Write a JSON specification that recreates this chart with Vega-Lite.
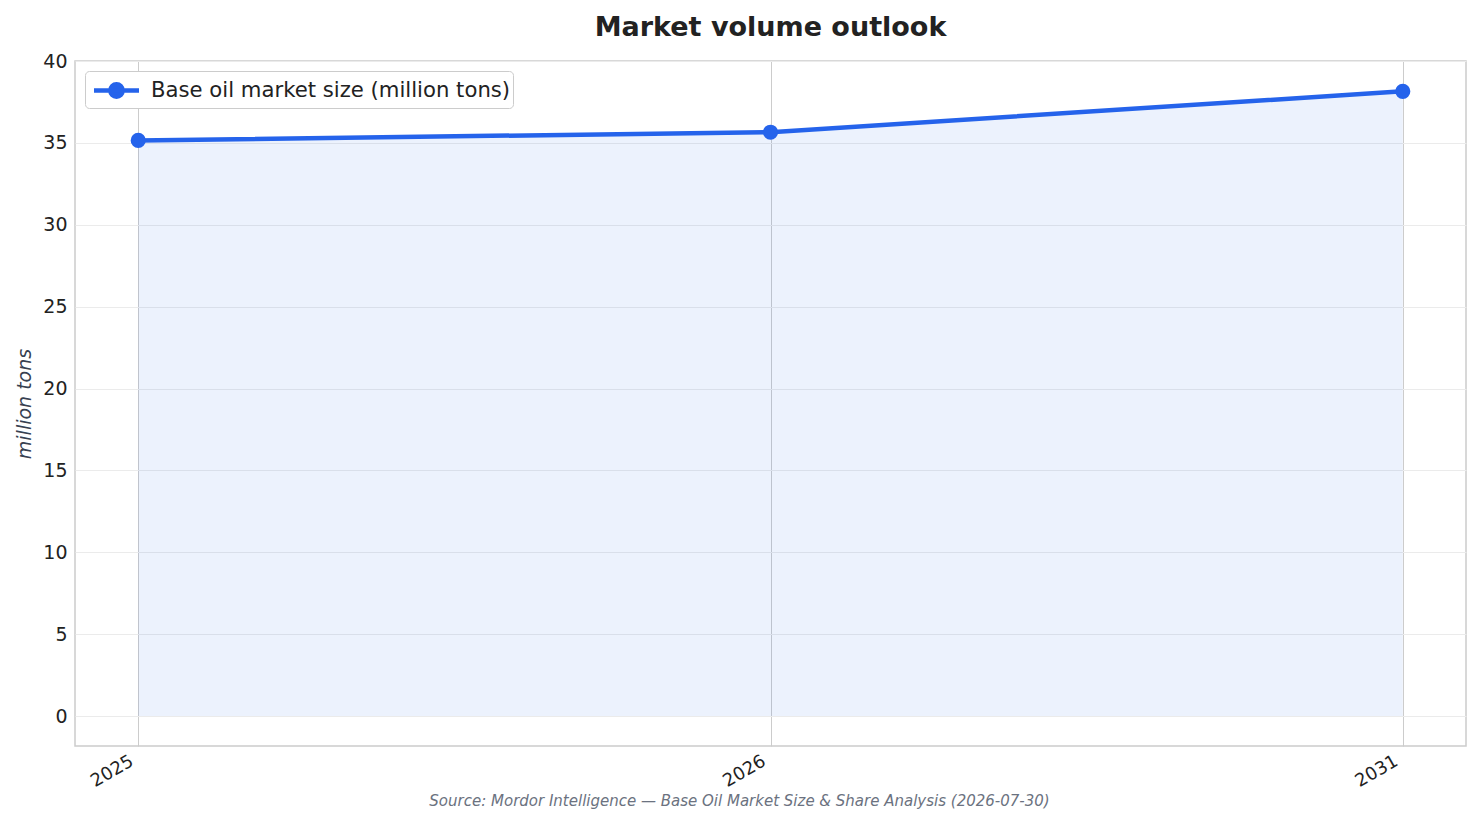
{
  "$schema": "https://vega.github.io/schema/vega-lite/v6.json",
  "description": "Market volume outlook, base oil market size",
  "width": 1391,
  "height": 685,
  "autosize": {"type": "none"},
  "padding": {"left": 75, "top": 61, "right": 15, "bottom": 78},
  "background": "white",
  "title": {
    "text": "Market volume outlook",
    "font": "DejaVu Sans",
    "fontSize": 27,
    "fontWeight": "bold",
    "color": "#222222",
    "anchor": "middle",
    "frame": "group",
    "offset": 10
  },
  "data": {
    "values": [
      {"year": "2025", "value": 35.15},
      {"year": "2026", "value": 35.65},
      {"year": "2031", "value": 38.15}
    ]
  },
  "encoding": {
    "x": {
      "field": "year",
      "type": "ordinal",
      "scale": {"type": "point", "padding": 0.1},
      "axis": {
        "title": "Source: Mordor Intelligence — Base Oil Market Size & Share Analysis (2026-07-30)",
        "titleX": 664,
        "titleY": 59,
        "titleAlign": "center",
        "titleBaseline": "alphabetic",
        "titleFont": "DejaVu Sans",
        "titleFontSize": 15,
        "titleFontStyle": "italic",
        "titleFontWeight": "normal",
        "titleColor": "#6b7280",
        "labelAngle": -30,
        "labelAlign": "right",
        "labelBaseline": "top",
        "labelFont": "DejaVu Sans",
        "labelFontSize": 18,
        "labelColor": "#222222",
        "labelPadding": 6,
        "labelOffset": -11,
        "ticks": false,
        "domain": false,
        "grid": true,
        "gridColor": "#cccccc",
        "gridWidth": 1
      }
    },
    "y": {
      "field": "value",
      "type": "quantitative",
      "scale": {"domain": [-1.83, 40], "nice": false, "zero": false},
      "axis": {
        "title": "million tons",
        "titleFont": "DejaVu Sans",
        "titleFontSize": 19,
        "titleFontStyle": "italic",
        "titleFontWeight": "normal",
        "titleColor": "#374151",
        "titlePadding": 8,
        "values": [0, 5, 10, 15, 20, 25, 30, 35, 40],
        "labelFont": "DejaVu Sans",
        "labelFontSize": 19,
        "labelColor": "#222222",
        "labelPadding": 8,
        "ticks": false,
        "domain": false,
        "grid": true,
        "gridColor": "#ebebeb",
        "gridWidth": 1
      }
    }
  },
  "layer": [
    {
      "mark": {"type": "area", "color": "#2563eb", "opacity": 0.085},
      "encoding": {"y2": {"datum": 0}}
    },
    {
      "mark": {
        "type": "line",
        "strokeWidth": 4.5,
        "point": {"filled": true, "size": 230}
      },
      "encoding": {
        "color": {
          "datum": "Base oil market size (million tons)",
          "type": "nominal",
          "scale": {"range": ["#2563eb"]},
          "legend": {
            "title": null,
            "orient": "top-left",
            "offset": 10,
            "padding": 2,
            "cornerRadius": 4,
            "fillColor": "white",
            "strokeColor": "#cccccc",
            "labelFont": "DejaVu Sans",
            "labelFontSize": 21.2,
            "labelColor": "#222222",
            "labelLimit": 1000,
            "labelOffset": 17,
            "symbolOffset": 12,
            "symbolType": "M-1.5,0H1.5M-0.41,0a0.41,0.41 0 1,0 0.82,0a0.41,0.41 0 1,0 -0.82,0",
            "symbolSize": 900,
            "symbolStrokeWidth": 4.5,
            "symbolFillColor": "#2563eb",
            "symbolStrokeColor": "#2563eb",
            "encode": {
              "symbols": {
                "update": {
                  "fill": {"value": "#2563eb"},
                  "stroke": {"value": "#2563eb"},
                  "opacity": {"value": 1}
                }
              }
            }
          }
        }
      }
    }
  ],
  "config": {
    "font": "DejaVu Sans",
    "view": {"stroke": "#cccccc", "strokeWidth": 1.5}
  }
}
